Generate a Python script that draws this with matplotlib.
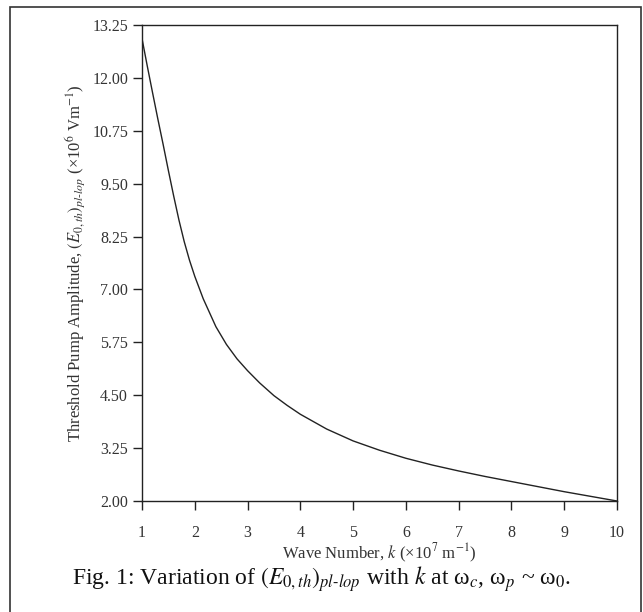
import matplotlib
matplotlib.use('Agg')
import matplotlib.pyplot as plt
from matplotlib.patches import Rectangle

# values
k = [1.0, 1.1, 1.2, 1.3, 1.4, 1.5, 1.6, 1.7, 1.8, 1.9, 2.0, 2.16, 2.4, 2.6, 2.8,
     3.0, 3.23, 3.5, 3.75, 4.0, 4.5, 5.0, 5.5, 6.0, 6.5, 7.0, 7.5, 8.0, 8.5, 9.0, 9.5, 10.0]
E_th = [12.93, 12.28, 11.65, 11.03, 10.43, 9.81, 9.21, 8.64, 8.13, 7.69, 7.31, 6.78, 6.12, 5.70, 5.36,
        5.08, 4.79, 4.49, 4.26, 4.05, 3.70, 3.42, 3.20, 3.01, 2.85, 2.71, 2.58, 2.46, 2.34, 2.22, 2.11, 2.00]

xticks = [1, 2, 3, 4, 5, 6, 7, 8, 9, 10]
yticks = [2.00, 3.25, 4.50, 5.75, 7.00, 8.25, 9.50, 10.75, 12.00, 13.25]

plt.rcParams['font.family'] = 'serif'
plt.rcParams['font.serif'] = ['Liberation Serif', 'DejaVu Serif']
plt.rcParams['mathtext.fontset'] = 'stix'

W, H = 643, 612
fig = plt.figure(figsize=(W / 100, H / 100), dpi=100)
ax = fig.add_axes([142 / W, 1 - 501 / H, 475 / W, 476 / H])

dark = '#222222'
ax.plot(k, E_th, color=dark, lw=1.0)

ax.set_xlim(1, 10)
ax.set_ylim(2.00, 13.25)
ax.set_xticks(xticks)
ax.set_yticks(yticks)
ax.set_yticklabels(['%.2f' % v for v in yticks])

for s in ax.spines.values():
    s.set_color(dark)
    s.set_linewidth(1.0)
ax.tick_params(axis='both', direction='out', length=6.5, width=1.0, color=dark,
               labelcolor='#333333', labelsize=11.5)
ax.tick_params(axis='x', pad=11)
ax.tick_params(axis='y', pad=3.5)

ax.set_xlabel(r'Wave Number, $k$ (×10$^7$ m$^{-1}$)', fontsize=12, color='#333333')
ax.xaxis.set_label_coords(0.5, -0.085)
ax.set_ylabel(r'Threshold Pump Amplitude, $(E_{0,th})_{pl\text{-}lop}$ (×10$^6$ Vm$^{-1}$)',
              fontsize=12, color='#333333')
ax.yaxis.set_label_coords(-0.115, 0.5)

fig.text(322 / W, 1 - 579 / H,
         r'Fig. 1: Variation of $(E_{0,th})_{pl\text{-}lop}$ with $k$ at ω$_c$, ω$_p$ ~ ω$_0$.',
         ha='center', va='center', fontsize=17, color='#111111')

# outer frame around the figure
fig.add_artist(Rectangle((10 / W, -0.02), 631 / W, 1.02 - 7 / H, transform=fig.transFigure,
                         fill=False, edgecolor='#333333', lw=1.2))

fig.savefig('out.png', dpi=100)
